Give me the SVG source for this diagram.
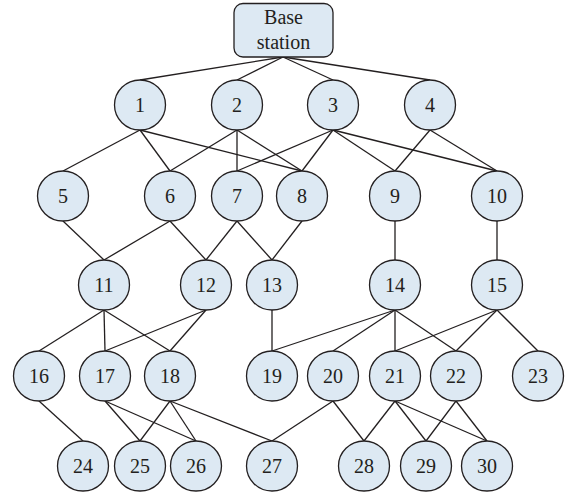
<svg xmlns="http://www.w3.org/2000/svg" width="570" height="492" viewBox="0 0 570 492">
<style>
.n ellipse, .n rect { fill: #dde9f3; stroke: #231f20; stroke-width: 1.3; }
.n text { font-family: "Liberation Serif", "Times New Roman", serif; font-size: 20px; fill: #231f20; text-anchor: middle; }
.e line { stroke: #231f20; stroke-width: 1.3; }
</style>
<rect width="570" height="492" fill="#ffffff"/>
<g class="e">
<line x1="283" y1="57" x2="140" y2="80"/>
<line x1="283" y1="57" x2="237" y2="80"/>
<line x1="283" y1="57" x2="333" y2="80"/>
<line x1="283" y1="57" x2="430" y2="80"/>
<line x1="140" y1="130" x2="63" y2="171"/>
<line x1="140" y1="130" x2="170" y2="171"/>
<line x1="140" y1="130" x2="302" y2="171"/>
<line x1="237" y1="130" x2="170" y2="171"/>
<line x1="237" y1="130" x2="237" y2="171"/>
<line x1="237" y1="130" x2="302" y2="171"/>
<line x1="333" y1="130" x2="237" y2="171"/>
<line x1="333" y1="130" x2="302" y2="171"/>
<line x1="333" y1="130" x2="395" y2="171"/>
<line x1="333" y1="130" x2="497" y2="171"/>
<line x1="430" y1="130" x2="395" y2="171"/>
<line x1="430" y1="130" x2="497" y2="171"/>
<line x1="63" y1="221" x2="104" y2="260"/>
<line x1="170" y1="221" x2="104" y2="260"/>
<line x1="170" y1="221" x2="206" y2="260"/>
<line x1="237" y1="221" x2="206" y2="260"/>
<line x1="237" y1="221" x2="272" y2="260"/>
<line x1="302" y1="221" x2="272" y2="260"/>
<line x1="395" y1="221" x2="395" y2="260"/>
<line x1="497" y1="221" x2="497" y2="260"/>
<line x1="104" y1="310" x2="39" y2="351"/>
<line x1="104" y1="310" x2="105" y2="351"/>
<line x1="104" y1="310" x2="170" y2="351"/>
<line x1="206" y1="310" x2="105" y2="351"/>
<line x1="206" y1="310" x2="170" y2="351"/>
<line x1="272" y1="310" x2="272" y2="351"/>
<line x1="395" y1="310" x2="272" y2="351"/>
<line x1="395" y1="310" x2="333" y2="351"/>
<line x1="395" y1="310" x2="395" y2="351"/>
<line x1="395" y1="310" x2="456" y2="351"/>
<line x1="497" y1="310" x2="395" y2="351"/>
<line x1="497" y1="310" x2="456" y2="351"/>
<line x1="497" y1="310" x2="538" y2="351"/>
<line x1="39" y1="401" x2="83" y2="441"/>
<line x1="105" y1="401" x2="140" y2="441"/>
<line x1="105" y1="401" x2="196" y2="441"/>
<line x1="170" y1="401" x2="140" y2="441"/>
<line x1="170" y1="401" x2="196" y2="441"/>
<line x1="170" y1="401" x2="272" y2="441"/>
<line x1="333" y1="401" x2="272" y2="441"/>
<line x1="333" y1="401" x2="364" y2="441"/>
<line x1="395" y1="401" x2="364" y2="441"/>
<line x1="395" y1="401" x2="426" y2="441"/>
<line x1="395" y1="401" x2="487" y2="441"/>
<line x1="456" y1="401" x2="426" y2="441"/>
<line x1="456" y1="401" x2="487" y2="441"/>
</g>
<g id="base" class="n"><rect x="234" y="3.5" width="99" height="53.5" rx="9"/><text x="283.5" y="24">Base</text><text x="283.5" y="48.5">station</text></g>
<g id="n1" class="n"><ellipse cx="140" cy="105" rx="25.5" ry="25"/><text x="140" y="112">1</text></g>
<g id="n2" class="n"><ellipse cx="237" cy="105" rx="25.5" ry="25"/><text x="237" y="112">2</text></g>
<g id="n3" class="n"><ellipse cx="333" cy="105" rx="25.5" ry="25"/><text x="333" y="112">3</text></g>
<g id="n4" class="n"><ellipse cx="430" cy="105" rx="25.5" ry="25"/><text x="430" y="112">4</text></g>
<g id="n5" class="n"><ellipse cx="63" cy="196" rx="25.5" ry="25"/><text x="63" y="203">5</text></g>
<g id="n6" class="n"><ellipse cx="170" cy="196" rx="25.5" ry="25"/><text x="170" y="203">6</text></g>
<g id="n7" class="n"><ellipse cx="237" cy="196" rx="25.5" ry="25"/><text x="237" y="203">7</text></g>
<g id="n8" class="n"><ellipse cx="302" cy="196" rx="25.5" ry="25"/><text x="302" y="203">8</text></g>
<g id="n9" class="n"><ellipse cx="395" cy="196" rx="25.5" ry="25"/><text x="395" y="203">9</text></g>
<g id="n10" class="n"><ellipse cx="497" cy="196" rx="25.5" ry="25"/><text x="497" y="203">10</text></g>
<g id="n11" class="n"><ellipse cx="104" cy="285" rx="25.5" ry="25"/><text x="104" y="292">11</text></g>
<g id="n12" class="n"><ellipse cx="206" cy="285" rx="25.5" ry="25"/><text x="206" y="292">12</text></g>
<g id="n13" class="n"><ellipse cx="272" cy="285" rx="25.5" ry="25"/><text x="272" y="292">13</text></g>
<g id="n14" class="n"><ellipse cx="395" cy="285" rx="25.5" ry="25"/><text x="395" y="292">14</text></g>
<g id="n15" class="n"><ellipse cx="497" cy="285" rx="25.5" ry="25"/><text x="497" y="292">15</text></g>
<g id="n16" class="n"><ellipse cx="39" cy="376" rx="25.5" ry="25"/><text x="39" y="383">16</text></g>
<g id="n17" class="n"><ellipse cx="105" cy="376" rx="25.5" ry="25"/><text x="105" y="383">17</text></g>
<g id="n18" class="n"><ellipse cx="170" cy="376" rx="25.5" ry="25"/><text x="170" y="383">18</text></g>
<g id="n19" class="n"><ellipse cx="272" cy="376" rx="25.5" ry="25"/><text x="272" y="383">19</text></g>
<g id="n20" class="n"><ellipse cx="333" cy="376" rx="25.5" ry="25"/><text x="333" y="383">20</text></g>
<g id="n21" class="n"><ellipse cx="395" cy="376" rx="25.5" ry="25"/><text x="395" y="383">21</text></g>
<g id="n22" class="n"><ellipse cx="456" cy="376" rx="25.5" ry="25"/><text x="456" y="383">22</text></g>
<g id="n23" class="n"><ellipse cx="538" cy="376" rx="25.5" ry="25"/><text x="538" y="383">23</text></g>
<g id="n24" class="n"><ellipse cx="83" cy="466" rx="25.5" ry="25"/><text x="83" y="473">24</text></g>
<g id="n25" class="n"><ellipse cx="140" cy="466" rx="25.5" ry="25"/><text x="140" y="473">25</text></g>
<g id="n26" class="n"><ellipse cx="196" cy="466" rx="25.5" ry="25"/><text x="196" y="473">26</text></g>
<g id="n27" class="n"><ellipse cx="272" cy="466" rx="25.5" ry="25"/><text x="272" y="473">27</text></g>
<g id="n28" class="n"><ellipse cx="364" cy="466" rx="25.5" ry="25"/><text x="364" y="473">28</text></g>
<g id="n29" class="n"><ellipse cx="426" cy="466" rx="25.5" ry="25"/><text x="426" y="473">29</text></g>
<g id="n30" class="n"><ellipse cx="487" cy="466" rx="25.5" ry="25"/><text x="487" y="473">30</text></g>
</svg>
